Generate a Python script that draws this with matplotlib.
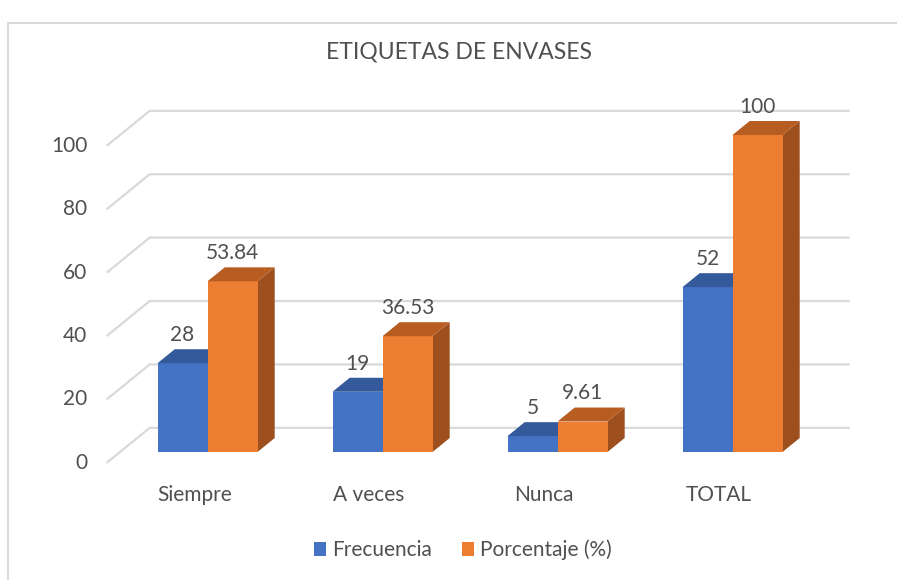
import matplotlib
matplotlib.use('Agg')
import matplotlib.pyplot as plt
from matplotlib.patches import Polygon, Rectangle, Patch
from matplotlib.lines import Line2D

categories = ['Siempre', 'A veces', 'Nunca', 'TOTAL']
frecuencia = [28, 19, 5, 52]
porcentaje = [53.84, 36.53, 9.61, 100]
frecuencia_labels = ['28', '19', '5', '52']
porcentaje_labels = ['53.84', '36.53', '9.61', '100']
y_ticks = [0, 20, 40, 60, 80, 100]
series_names = ['Frecuencia', 'Porcentaje (%)']
title = 'ETIQUETAS DE ENVASES'

plt.rcParams['font.family'] = ['Lato', 'DejaVu Sans']
TXT = '#505050'
GRID = '#d9d9d9'
BLUE = ('#4472C4', '#345A9C', '#2F528F')
ORANGE = ('#ED7D31', '#B85D22', '#9E4F1E')
FS = 15

W, H = 897, 580
fig = plt.figure(figsize=(W / 100, H / 100), dpi=100)
ax = fig.add_axes([0, 0, 1, 1])
PX_X = 175.0
PX_Y = 3.17
x0_px, y0_px = 207.5, 452
ax.set_xlim(-x0_px / PX_X, (W - x0_px) / PX_X)
ax.set_ylim(-(H - y0_px) / PX_Y, y0_px / PX_Y)
ax.axis('off')

DX = 43 / PX_X
DY = 35 / PX_Y
D_FRONT, D_BACK = 0.31, 0.71
BW = 50 / PX_X


def P(x, v, d):
    return (x + (d - D_FRONT) * DX, v + (d - D_FRONT) * DY)


# gridlines
for t in y_ticks:
    a = P(-0.5, t, 0)
    b = P(-0.5, t, 1)
    c = P(3.5, t, 1)
    ax.plot([a[0], b[0], c[0]], [a[1], b[1], c[1]], color=GRID, lw=1.6,
            zorder=1, solid_capstyle='butt')
    ax.annotate(str(t), xy=a, xytext=(-14, 0), textcoords='offset points',
                ha='right', va='center', fontsize=FS, color=TXT)


def bar3d(xl, v, cols, z):
    xr = xl + BW
    ax.add_patch(Rectangle((xl, 0), BW, v, facecolor=cols[0], edgecolor='none', zorder=z))
    top = [P(xl, v, D_FRONT), P(xr, v, D_FRONT), P(xr, v, D_BACK), P(xl, v, D_BACK)]
    ax.add_patch(Polygon(top, closed=True, facecolor=cols[1], edgecolor='none', zorder=z))
    side = [P(xr, 0, D_FRONT), P(xr, v, D_FRONT), P(xr, v, D_BACK), P(xr, 0, D_BACK)]
    ax.add_patch(Polygon(side, closed=True, facecolor=cols[2], edgecolor='none', zorder=z - 0.5))


for i, cat in enumerate(categories):
    bar3d(i - BW, frecuencia[i], BLUE, 3)
    bar3d(i, porcentaje[i], ORANGE, 5)
    for xc, v, lab in [(i - BW / 2, frecuencia[i], frecuencia_labels[i]),
                       (i + BW / 2, porcentaje[i], porcentaje_labels[i])]:
        ax.annotate(lab, xy=(xc, P(xc, v, D_BACK)[1]), xytext=(0, 3),
                    textcoords='offset points', ha='center', va='bottom',
                    fontsize=FS, color=TXT, zorder=10)
    ax.annotate(cat, xy=P(i, 0, 0), xytext=(0, -23), textcoords='offset points',
                ha='center', va='center', fontsize=FS, color=TXT)

# chart border
fig.add_artist(Line2D([8 / W, 8 / W, 1], [0, 1 - 23 / H, 1 - 23 / H],
                      transform=fig.transFigure, color=GRID, lw=1.5))

fig.text(459 / W, 1 - 52 / H, title, ha='center', va='center', fontsize=16.5, color=TXT)

handles = [Patch(facecolor=BLUE[0]), Patch(facecolor=ORANGE[0])]
fig.legend(handles, series_names, loc='center', bbox_to_anchor=(463 / W, 1 - 550 / H),
           ncol=2, frameon=False, fontsize=FS, labelcolor=TXT, handlelength=0.6,
           handleheight=0.6, handletextpad=0.3, columnspacing=1.4)

fig.savefig('out.png', dpi=100)
